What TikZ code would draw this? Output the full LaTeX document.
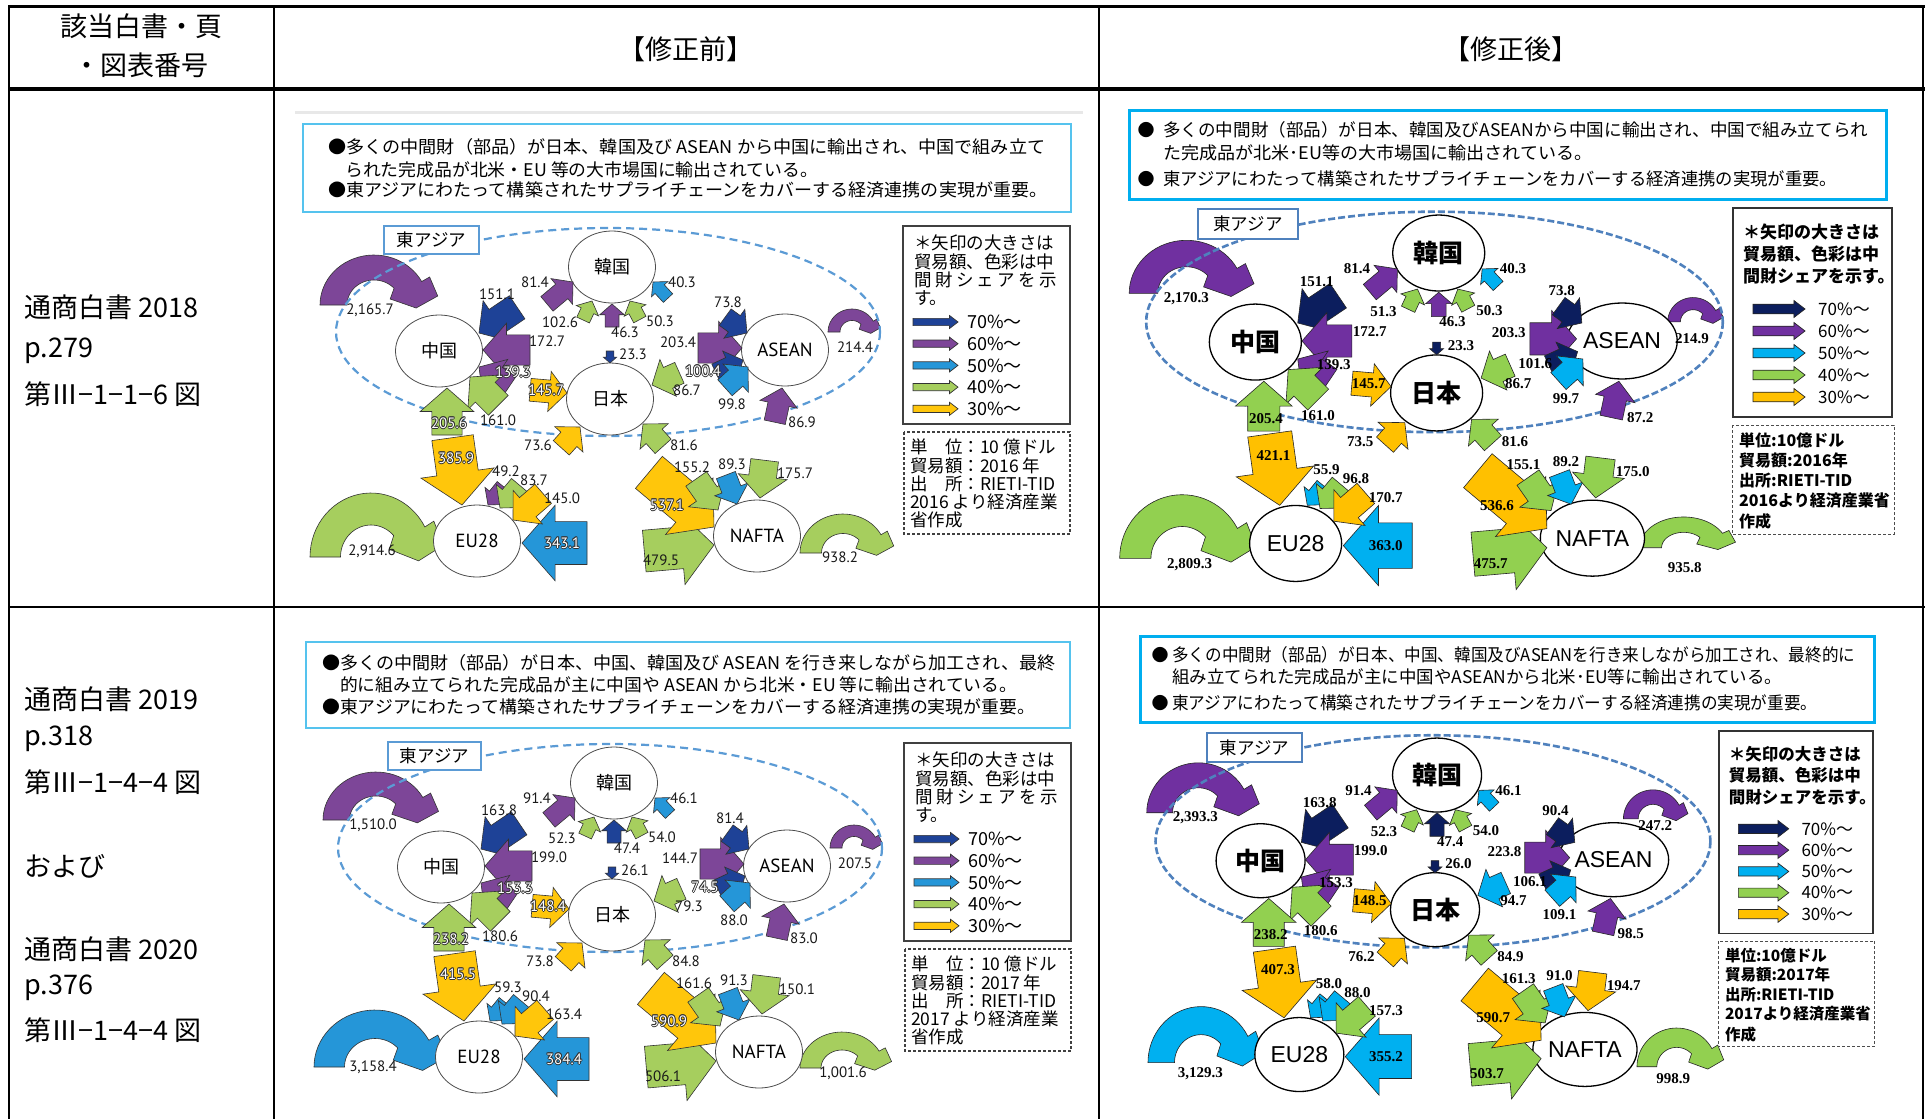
\documentclass[tikz,border=0pt]{standalone}
\usepackage{fontspec}
\usepackage{graphicx}
\usetikzlibrary{shapes.geometric}
\newfontfamily\jp{Noto Sans CJK JP}
\newfontfamily\ptsans{PT Sans}
\newfontfamily\lsans{Liberation Sans}
\newfontfamily\lserif{Liberation Serif}
\pgfdeclarelayer{bg}
\pgfsetlayers{bg,main}
\newif\ifbefore

\definecolor{bN}{HTML}{1E4297}
\definecolor{bP}{HTML}{7D4698}
\definecolor{bB}{HTML}{2596D8}
\definecolor{bG}{HTML}{A6CE5E}
\definecolor{bY}{HTML}{FFC60B}
\definecolor{aN}{HTML}{0C1E5E}
\definecolor{aP}{HTML}{7030A0}
\definecolor{aB}{HTML}{00B0F0}
\definecolor{aG}{HTML}{92D050}
\definecolor{aY}{HTML}{FFC000}
\definecolor{boxB}{HTML}{55C3EE}
\definecolor{boxA}{HTML}{00AEEF}
\definecolor{eaB}{HTML}{5B9BD5}
\definecolor{eaA}{HTML}{4F81BD}

\newcommand\paletteB{\colorlet{c70}{bN}\colorlet{c60}{bP}\colorlet{c50}{bB}\colorlet{c40}{bG}\colorlet{c30}{bY}}
\newcommand\paletteA{\colorlet{c70}{aN}\colorlet{c60}{aP}\colorlet{c50}{aB}\colorlet{c40}{aG}\colorlet{c30}{aY}}

\newcommand\beforestyles{\tikzset{
 cnode/.style={ellipse, draw=black!70, line width=0.8pt, fill=white, minimum width=87pt, minimum height=72pt, inner sep=0pt},
 jn/.style={cnode, font=\jp\fontsize{18}{18}\selectfont},
 ln/.style={cnode, font=\ptsans\fontsize{19}{19}\selectfont},
 numlab/.style={font=\ptsans\fontsize{15}{15}\selectfont, inner sep=0pt, text=black!90},
 arrowline/.style={draw=black!80, line width=0.6pt, line join=miter},
 lnk/.style={draw=black!65, line width=0.8pt, dotted},
 lnkb/.style={draw=black!85, line width=0.8pt},
 eas/.style={draw=eaB, line width=2.2pt, dash pattern=on 8pt off 5pt},
 lgt/.style={anchor=west, inner sep=0pt, font=\jp\fontsize{17.5}{17.5}\selectfont},
 lgl/.style={anchor=west, inner sep=0pt, font=\jp\fontsize{18}{18}\selectfont},
 legarrow/.style={draw=black!80, line width=0.7pt},
 eabox/.style={draw=eaB, line width=2pt, fill=white, inner sep=0pt, font=\jp\fontsize{17.5}{17.5}\selectfont},
}}
\newcommand\afterstyles[2]{\tikzset{
 cnode/.style={ellipse, draw=black, line width=1.3pt, fill=white, minimum width=#1pt, minimum height=#2pt, inner sep=0pt},
 jn/.style={cnode, font=\jp\bfseries\fontsize{25}{25}\selectfont},
 ln/.style={cnode, font=\lsans\fontsize{23}{23}\selectfont},
 numlab/.style={font=\lserif\bfseries\fontsize{15}{15}\selectfont, inner sep=0pt, text=black},
 arrowline/.style={draw=black!85, line width=0.6pt, line join=miter},
 lnk/.style={draw=black!70, line width=0.6pt},
 lnkb/.style={draw=black!40, line width=0.8pt},
 eas/.style={draw=eaA, line width=2.6pt, dash pattern=on 7pt off 3pt},
 lgl/.style={anchor=west, inner sep=0pt, font=\jp\fontsize{17}{17}\selectfont},
 legarrow/.style={draw=black!85, line width=0.7pt},
 eabox/.style={draw=eaA, line width=2pt, fill=white, inner sep=0pt, font=\jp\fontsize{17.5}{17.5}\selectfont},
}}

\newcommand\setvals[1]{\foreach \qv/\qc [count=\qi] in {#1}{\expandafter\xdef\csname v\qi\endcsname{\qv}\expandafter\xdef\csname c\qi\endcsname{\qc}}}

\newcommand\blk[6]{%
 \edef\curcol{\csname c#1\endcsname}%
 \pgfmathsetmacro\ww{#6<30 ? 1.15*#6 : #6}%
 \pgfmathsetmacro\hw{0.97*\ww}%
 \pgfmathsetmacro\hl{min(0.85*\ww,0.6*#5)}%
 \pgfmathsetmacro\hs{0.55*\ww}%
 \begin{scope}[shift={(#2,#3)},rotate={-1*(#4)}]
  \filldraw[arrowline,fill=\curcol] (0,0) -- (-\hl,\hw) -- (-\hl,\hs) -- (-#5,\hs) -- (-#5,-\hs) -- (-\hl,-\hs) -- (-\hl,-\hw) -- cycle;
  \coordinate (t#1) at (-#5,0);
 \end{scope}}

\newcommand\lp[5]{%
 \begin{scope}[shift={(#2,#3)},xscale=#4,yscale=#5]
  \filldraw[arrowline,fill=#1] plot[domain=180:332,samples=30] ({cos(\x)},{sin(\x)}) -- (1.03,-0.56) -- (1.18,-0.18) -- (0.78,0.06) -- (0.30,-0.12) -- plot[domain=318:180,samples=30] ({0.5*cos(\x)},{0.5*sin(\x)}) -- cycle;
 \end{scope}}

\newcommand\lk[2]{\draw[lnk] (t#1) -- (t#2);}
\newcommand\plab[3]{\node[numlab] (L\dg#1) at (#2,#3) {\csname v#1\endcsname};}
\newcommand\olab[3]{\foreach \ox/\oy in {-.8/0,.8/0,0/-.8,0/.8,-.6/-.6,.6/.6,-.6/.6,.6/-.6}{\node[numlab,text=black!80,xshift=\ox pt,yshift=\oy pt] at (#2,#3) {\csname v#1\endcsname};}\node[numlab,text=white] (L\dg#1) at (#2,#3) {\csname v#1\endcsname};}
\newcommand\lab[4]{\ifbefore\ifnum#4=1\relax\olab{#1}{#2}{#3}\else\plab{#1}{#2}{#3}\fi\else\plab{#1}{#2}{#3}\fi}

\newcommand\drawnet{%
 \draw[eas] (608,332) ellipse [x radius=272, y radius=104];
 \node[jn] (K\dg) at (612,267) {韓国};
 \node[jn] (C\dg) at (439,351) {中国};
 \node[jn] (J\dg) at (610,399) {日本};
 \node[ln] (A\dg) at (785,350) {ASEAN};
 \node[ln] (E\dg) at (477,541) {EU28};
 \node[ln] (N\dg) at (757,536) {NAFTA};
 \blk{2}{479}{333}{146}{46}{22}
 \blk{1}{573}{282}{-40}{34}{15}
 \blk{3}{592}{301}{-65}{21}{11}
 \blk{4}{612}{304}{-90}{23}{11}
 \blk{5}{610}{363}{90}{12}{6}
 \blk{6}{630}{301}{-118}{21}{11}
 \blk{7}{653}{282}{-133}{22}{10}
 \blk{8}{483}{350}{180}{47}{24}
 \blk{9}{479}{367}{-146}{36}{20}
 \blk{10}{470}{377}{-135}{40}{22}
 \blk{11}{447}{388}{-90}{47}{24}
 \blk{12}{567}{393}{5}{37}{18}
 \blk{13}{742}{348}{0}{44}{24}
 \blk{14}{652}{385}{156}{30}{18}
 \blk{15}{743}{360}{-25}{30}{15}
 \blk{16}{747}{333}{36}{27}{16}
 \blk{17}{748}{367}{-42}{31}{17}
 \blk{18}{782}{388}{-78}{35}{17}
 \blk{23}{714}{545}{-5}{70}{38}
 \blk{22}{714}{527}{40}{85}{38}
 \blk{21}{718}{510}{55}{38}{20}
 \blk{20}{737}{504}{69}{31}{16}
 \blk{19}{760}{498}{97}{38}{22}
 \blk{24}{522}{543}{180}{65}{39}
 \blk{25}{462}{505}{82}{68}{38}
 \blk{26}{488}{505}{129}{24}{12}
 \blk{27}{500}{508}{130}{30}{16}
 \blk{28}{513}{520}{139}{40}{20}
 \blk{29}{580}{427}{-48}{28}{17}
 \blk{30}{643}{424}{-132}{30}{17}
 \begin{pgfonlayer}{bg}
  \lk{2}{1}\lk{8}{13}\lk{4}{5}\lk{7}{16}\lk{9}{12}\lk{3}{26}\lk{6}{20}\lk{14}{15}\lk{29}{27}\lk{30}{21}\lk{10}{22}\lk{17}{28}\lk{18}{19}\lk{11}{25}
  \draw[lnkb] (t24) -- (t23);
 \end{pgfonlayer}
 \lab{1}{535}{282}{0}\lab{2}{497}{294}{0}\lab{3}{560}{322}{0}\lab{4}{625}{332}{0}\lab{5}{633}{354}{0}
 \lab{6}{660}{321}{0}\lab{7}{682}{282}{0}\lab{8}{547}{341}{0}\lab{9}{513}{372}{1}\lab{10}{498}{420}{0}
 \lab{11}{449}{423}{1}\lab{12}{546}{390}{1}\lab{13}{678}{342}{0}\lab{14}{687}{390}{0}\lab{15}{703}{371}{1}
 \lab{16}{728}{302}{0}\lab{17}{732}{404}{0}\lab{18}{802}{422}{0}\lab{19}{795}{473}{0}\lab{20}{732}{464}{0}
 \lab{21}{692}{467}{0}\lab{22}{667}{505}{1}\lab{23}{661}{560}{0}\lab{24}{562}{543}{1}\lab{25}{456}{458}{1}
 \lab{26}{506}{471}{0}\lab{27}{534}{480}{0}\lab{28}{562}{498}{0}\lab{29}{538}{445}{0}\lab{30}{684}{445}{0}
}

\newcommand\legrows[6]{%
 \foreach \qa/\qb [count=\qn from 0] in {c70/70,c60/60,c50/50,c40/40,c30/30}{%
  \pgfmathsetmacro\ly{#2+\qn*#3}%
  \pgfmathsetmacro\lxa{#1+#4-0.65*#5}%
  \pgfmathsetmacro\lxb{#1+#4}%
  \pgfmathsetmacro\lsa{\ly-0.28*#5}%
  \pgfmathsetmacro\lsb{\ly+0.28*#5}%
  \pgfmathsetmacro\lha{\ly-0.5*#5}%
  \pgfmathsetmacro\lhb{\ly+0.5*#5}%
  \filldraw[legarrow,fill=\qa] (#1,\lsa) -- (\lxa,\lsa) -- (\lxa,\lha) -- (\lxb,\ly) -- (\lxa,\lhb) -- (\lxa,\lsb) -- (#1,\lsb) -- cycle;
  \node[lgl] (lg\qb\dg) at (#6,\ly) {\qb\%～};
 }}

\newcommand\legendB[1]{%
 \draw[black!75, line width=1.3pt] (903,226) rectangle (1070,424);
 \node[lgt] (lgA\dg) at (914,243) {＊矢印の大きさは};
 \node[lgt] (lgB\dg) at (914,262) {貿易額、色彩は中};
 \node[lgt] (lgC\dg) at (914,280) {\makebox[143pt][s]{間\hfil 財\hfil シ\hfil ェ\hfil ア\hfil を\hfil 示}};
 \node[lgt] (lgD\dg) at (914,298) {す。};
 \legrows{913}{322}{21.7}{45}{13}{967}
 \draw[black!75, line width=1.2pt, dash pattern=on 3pt off 2pt] (904,432) rectangle (1070,534);
 \node[lgt] (dA\dg) at (910,447) {単　位：10 億ドル};
 \node[lgt] (dB\dg) at (910,466) {貿易額：#1 年};
 \node[lgt] (dC\dg) at (910,484) {出　所：RIETI-TID};
 \node[lgt] (dD\dg) at (910,502) {#1 より経済産業};
 \node[lgt] (dE\dg) at (910,520) {省作成};
}
\newcommand\legendA[3]{%
 \draw[black!80, line width=1.2pt] (1733,208) rectangle (1892,417);
 \node[anchor=west,inner sep=0pt,font=\jp\bfseries\fontsize{#1}{#1}\selectfont] (lgA\dg) at (1743,232) {＊矢印の大きさは};
 \node[anchor=west,inner sep=0pt,font=\jp\bfseries\fontsize{#1}{#1}\selectfont] (lgB\dg) at (1743,254) {貿易額、色彩は中};
 \node[anchor=west,inner sep=0pt,font=\jp\bfseries\fontsize{#1}{#1}\selectfont] (lgC\dg) at (1743,276) {間財シェアを示す。};
 \legrows{1753}{309}{22}{52}{17}{1818}
 \draw[black!70, line width=1pt, dash pattern=on 3pt off 2pt] (1732,425) rectangle (1894,534);
 \node[anchor=west,inner sep=0pt,font=\jp\bfseries\fontsize{#2}{#2}\selectfont] (dA\dg) at (1739,440) {単位:10億ドル};
 \node[anchor=west,inner sep=0pt,font=\jp\bfseries\fontsize{#2}{#2}\selectfont] (dB\dg) at (1739,460) {貿易額:#3年};
 \node[anchor=west,inner sep=0pt,font=\jp\bfseries\fontsize{#2}{#2}\selectfont] (dC\dg) at (1739,480) {出所:RIETI-TID};
 \node[anchor=west,inner sep=0pt,font=\jp\bfseries\fontsize{#2}{#2}\selectfont] (dD\dg) at (1739,500) {#3より経済産業省};
 \node[anchor=west,inner sep=0pt,font=\jp\bfseries\fontsize{#2}{#2}\selectfont] (dE\dg) at (1739,521) {作成};
}

\begin{document}
\begin{tikzpicture}[x=1pt,y=-1pt,
 hd/.style={inner sep=0pt, font=\jp\fontsize{27}{27}\selectfont},
 lc/.style={anchor=west, inner sep=0pt, font=\jp\fontsize{27}{27}\selectfont},
 tl/.style={anchor=west, inner sep=0pt, font=\jp\fontsize{17.5}{17.5}\selectfont},
 tlA/.style={anchor=west, inner sep=0pt, font=\jp\fontsize{17.5}{17.5}\selectfont},
 bul/.style={inner sep=0pt, font=\jp\fontsize{17}{17}\selectfont}]
\useasboundingbox (0,0) rectangle (1929,1119);
\fill[white] (0,0) rectangle (1929,1119);

% ---------- table ----------
\draw[line width=3pt] (8,6) -- (1925,6);
\draw[line width=3.5pt] (8,89) -- (1925,89);
\draw[line width=2.5pt] (8,607) -- (1925,607);
\draw[line width=2.5pt] (9,5) -- (9,1119);
\draw[line width=2.5pt] (274,5) -- (274,1119);
\draw[line width=2.5pt] (1099,5) -- (1099,1119);
\draw[line width=2.5pt] (1923,5) -- (1923,1119);
\node[hd] (h1) at (141,26) {該当白書・頁};
\node[hd] (h2) at (141,65) {・図表番号};
\node[hd] (h3) at (686,49) {【修正前】};
\node[hd] (h4) at (1511,49) {【修正後】};
\node[lc] (r1a) at (24,307) {通商白書 2018};
\node[lc] (r1b) at (24,351) {p.279};
\node[lc] (r1c) at (24,394) {第Ⅲ−1−1−6 図};
\node[lc] (r2a) at (24,699) {通商白書 2019};
\node[lc] (r2b) at (24,739) {p.318};
\node[lc] (r2c) at (24,782) {第Ⅲ−1−4−4 図};
\node[lc] (r2d) at (24,866) {および};
\node[lc] (r2e) at (24,949) {通商白書 2020};
\node[lc] (r2f) at (24,988) {p.376};
\node[lc] (r2g) at (24,1030) {第Ⅲ−1−4−4 図};

% ---------- D1 : before 2018 ----------
\draw[gray!18, line width=3pt] (295,112) -- (1083,112);
\draw[boxB, line width=2.8pt, fill=white] (303,124) rectangle (1071,212);
\node[tl] (a-t1) at (328,147) {\resizebox{717pt}{\height}{●多くの中間財（部品）が日本、韓国及び ASEAN から中国に輸出され、中国で組み立て}};
\node[tl] (a-t2) at (345,170) {\resizebox{473pt}{\height}{られた完成品が北米・EU 等の大市場国に輸出されている。}};
\node[tl] (a-t3) at (328,190) {\resizebox{719pt}{\height}{●東アジアにわたって構築されたサプライチェーンをカバーする経済連携の実現が重要。}};
\begin{scope}
 \def\dg{a}\beforetrue\paletteB\beforestyles
 \setvals{81.4/c60,151.1/c70,102.6/c40,46.3/c60,23.3/c70,50.3/c40,40.3/c50,172.7/c60,139.3/c60,161.0/c40,205.6/c40,145.7/c30,203.4/c60,86.7/c40,100.4/c70,73.8/c70,99.8/c50,86.9/c60,175.7/c40,89.3/c50,155.2/c40,537.1/c30,479.5/c40,343.1/c50,385.9/c30,49.2/c60,83.7/c40,145.0/c30,73.6/c30,81.6/c40}
 \lp{c60}{374}{305}{54}{50}
 \lp{c40}{371}{557}{61}{64}
 \lp{c60}{852}{332}{24}{23}
 \lp{c40}{843}{553}{43}{39}
 \drawnet
 \node[numlab] (a-l1) at (370,310) {2,165.7};
 \node[numlab] (a-l2) at (372,551) {2,914.6};
 \node[numlab] (a-l3) at (855,347) {214.4};
 \node[numlab] (a-l4) at (840,557) {938.2};
 \node[eabox, minimum width=95pt, minimum height=28pt] (a-ea) at (431.5,240) {東アジア};
 \legendB{2016}
\end{scope}

% ---------- D2 : after 2018 ----------
\draw[boxA, line width=3pt, fill=white] (1129,110) rectangle (1886,199);
\node[bul] (b-b1) at (1146,130) {●};
\node[bul] (b-b2) at (1146,179) {●};
\node[tlA] (b-t1) at (1163,130) {\resizebox{705pt}{\height}{多くの中間財（部品）が日本、韓国及びASEANから中国に輸出され、中国で組み立てられ}};
\node[tlA] (b-t2) at (1163,153) {\resizebox{429pt}{\height}{た完成品が北米･EU等の大市場国に輸出されている。}};
\node[tlA] (b-t3) at (1163,179) {\resizebox{674pt}{\height}{東アジアにわたって構築されたサプライチェーンをカバーする経済連携の実現が重要。}};
\begin{scope}
 \def\dg{b}\beforefalse\paletteA\afterstyles{92}{76}
 \setvals{81.4/c60,151.1/c70,51.3/c40,46.3/c60,23.3/c70,50.3/c40,40.3/c50,172.7/c60,139.3/c60,161.0/c40,205.4/c40,145.7/c30,203.3/c60,86.7/c40,101.6/c70,73.8/c70,99.7/c50,87.2/c60,175.0/c40,89.2/c50,155.1/c40,536.6/c30,475.7/c40,363.0/c50,421.1/c30,55.9/c50,96.8/c40,170.7/c30,73.5/c30,81.6/c40}
 \begin{scope}[shift={(790,-30)},scale=1.06]
  \lp{c60}{374}{305}{54}{50}
  \lp{c40}{370}{555}{59}{60}
  \lp{c60}{852}{332}{24}{23}
  \lp{c40}{843}{545}{41.5}{29}
  \drawnet
  \node[numlab] (b-l1) at (374,310) {2,170.3};
  \node[numlab] (b-l2) at (377,561) {2,809.3};
  \node[numlab] (b-l3) at (851,348) {214.9};
  \node[numlab] (b-l4) at (844,564) {935.8};
 \end{scope}
 \node[eabox, minimum width=100pt, minimum height=30pt] (b-ea) at (1248,224) {東アジア};
 \legendA{17}{16}{2016}
\end{scope}

% ---------- D3 : before 2019 ----------
\draw[boxB, line width=2.8pt, fill=white] (306,642) rectangle (1070,728);
\node[tl] (c-t1) at (322,663) {\resizebox{733pt}{\height}{●多くの中間財（部品）が日本、中国、韓国及び ASEAN を行き来しながら加工され、最終}};
\node[tl] (c-t2) at (340,685) {\resizebox{677pt}{\height}{的に組み立てられた完成品が主に中国や ASEAN から北米・EU 等に輸出されている。}};
\node[tl] (c-t3) at (322,707) {\resizebox{713pt}{\height}{●東アジアにわたって構築されたサプライチェーンをカバーする経済連携の実現が重要。}};
\begin{scope}
 \def\dg{c}\beforetrue\paletteB\beforestyles
 \setvals{91.4/c60,163.8/c70,52.3/c40,47.4/c70,26.1/c70,54.0/c40,46.1/c50,199.0/c60,153.3/c60,180.6/c40,238.2/c40,148.4/c30,144.7/c60,79.3/c40,74.5/c70,81.4/c70,88.0/c50,83.0/c60,150.1/c40,91.3/c50,161.6/c40,590.9/c30,506.1/c40,384.4/c50,415.5/c30,59.3/c50,90.4/c50,163.4/c30,73.8/c30,84.8/c40}
 \begin{scope}[shift={(2,516)}]
  \tikzset{lnkb/.style={lnk}}
  \lp{c60}{374}{304}{53}{48}
  \lp{c50}{373}{551}{61}{57}
  \lp{c60}{852}{332}{24}{23}
  \lp{c40}{840}{552}{42}{36}
  \drawnet
  \node[numlab] (c-l1) at (371,309) {1,510.0};
  \node[numlab] (c-l2) at (371,551) {3,158.4};
  \node[numlab] (c-l3) at (853,347) {207.5};
  \node[numlab] (c-l4) at (841,557) {1,001.6};
 \end{scope}
 \node[eabox, minimum width=93pt, minimum height=28pt] (c-ea) at (434.5,756) {東アジア};
 \begin{scope}[shift={(1,517)}]
  \legendB{2017}
 \end{scope}
\end{scope}

% ---------- D4 : after 2019 ----------
\draw[boxA, line width=3pt, fill=white] (1140,636) rectangle (1874,722);
\node[bul] (d-b1) at (1160,655) {●};
\node[bul] (d-b2) at (1160,703) {●};
\node[tlA] (d-t1) at (1172,655) {\resizebox{683pt}{\height}{多くの中間財（部品）が日本、中国、韓国及びASEANを行き来しながら加工され、最終的に}};
\node[tlA] (d-t2) at (1172,677) {\resizebox{610pt}{\height}{組み立てられた完成品が主に中国やASEANから北米･EU等に輸出されている。}};
\node[tlA] (d-t3) at (1172,703) {\resizebox{645pt}{\height}{東アジアにわたって構築されたサプライチェーンをカバーする経済連携の実現が重要。}};
\begin{scope}
 \def\dg{d}\beforefalse\paletteA\afterstyles{89}{74}
 \setvals{91.4/c60,163.8/c70,52.3/c40,47.4/c70,26.0/c70,54.0/c40,46.1/c50,199.0/c60,153.3/c60,180.6/c40,238.2/c40,148.5/c30,223.8/c60,94.7/c50,106.1/c70,90.4/c70,109.1/c50,98.5/c60,194.7/c30,91.0/c50,161.3/c40,590.7/c30,503.7/c40,355.2/c50,407.3/c30,58.0/c50,88.0/c50,157.3/c40,76.2/c30,84.9/c40}
 \begin{scope}[shift={(812.8,502.7)},scale=1.02]
  \lp{c60}{378}{304}{50.6}{49}
  \lp{c50}{380.6}{549}{52}{55}
  \lp{c60}{823.7}{310}{29}{28.5}
  \lp{c40}{847}{553}{39}{38}
  \drawnet
  \node[numlab] (d-l1) at (375,309) {2,393.3};
  \node[numlab] (d-l2) at (380,560) {3,129.3};
  \node[numlab] (d-l3) at (826,317) {247.2};
  \node[numlab] (d-l4) at (843.5,565) {998.9};
 \end{scope}
 \node[eabox, minimum width=95pt, minimum height=29pt] (d-ea) at (1254.5,747.5) {東アジア};
 \begin{scope}[shift={(40.4,529.5)},scale=0.9686]
  \legendA{16.5}{15.5}{2017}
 \end{scope}
\end{scope}
\end{tikzpicture}
\end{document}
